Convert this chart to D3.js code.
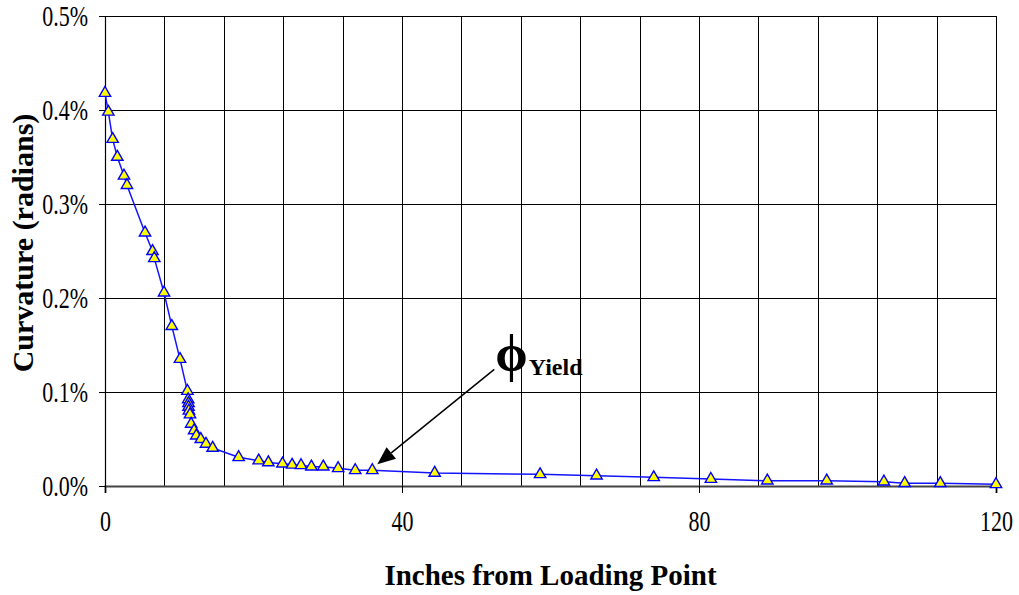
<!DOCTYPE html>
<html>
<head>
<meta charset="utf-8">
<script src="https://cdn.jsdelivr.net/npm/d3@7"></script>
<style>
  body { margin: 0; background: #fff; }
  svg { display: block; }
  text { font-family: "Liberation Serif", "Times New Roman", serif; fill: #000; }
</style>
</head>
<body>
<svg id="chart" width="1019" height="595"></svg>
<script>
// Distance from the loading point (inches) and measured curvature (radians)
const distance = [0, 0.45, 1.03, 1.66, 2.56, 2.96, 5.39, 6.4, 6.64, 7.95,
  9.0, 10.1, 11.1, 11.2, 11.25, 11.25, 11.3, 11.45, 11.6, 12.0,
  12.3, 12.9, 13.6, 14.5, 18.0, 20.7, 22.0, 23.9, 25.2, 26.4,
  27.8, 29.4, 31.4, 33.7, 36.0, 44.4, 58.6, 66.2, 73.9, 81.6,
  89.2, 97.2, 104.9, 107.7, 112.5, 120.0];
const curvature = [0.00418, 0.00398, 0.00369, 0.00350, 0.00330, 0.00320, 0.002695, 0.002497, 0.002422, 0.002056,
  0.00170, 0.00135, 0.00101, 0.00092, 0.00088, 0.00084, 0.00080, 0.00076, 0.00066, 0.00059,
  0.000535, 0.000497, 0.000447, 0.000404, 0.000305, 0.00027, 0.00025, 0.000237, 0.000225, 0.00022,
  0.000205, 0.000205, 0.000188, 0.000167, 0.000167, 0.000138, 0.000124, 0.00011, 0.000092, 0.000074,
  0.000056, 0.000056, 0.000046, 0.000029, 0.000029, 0.000018];

// Axis ticks and gridlines
const xTickValues = [0, 40, 80, 120];
const xGridValues = [0, 8, 16, 24, 32, 40, 48, 56, 64, 72, 80, 88, 96, 104, 112, 120];
const yTickValues = [0, 0.001, 0.002, 0.003, 0.004, 0.005];

const xTitle = "Inches from Loading Point";
const yTitle = "Curvature (radians)";

// Yield annotation: the symbol, its subscript, and the point it marks
const yieldSymbol = "\u03D5";
const yieldSub = "Yield";
const yieldIndex = 34;

const W = 1019, H = 595;
const margin = { top: 16, right: 23, bottom: 109, left: 105 };
const iw = W - margin.left - margin.right;
const ih = H - margin.top - margin.bottom;
const tickStretch = 1.3; // tick labels are drawn tall and narrow

const svg = d3.select("#chart");
const g = svg.append("g").attr("transform", `translate(${margin.left},${margin.top})`);

const x = d3.scaleLinear().domain([0, 120]).range([0, iw]);
const y = d3.scaleLinear().domain([0, 0.005]).range([ih, 0]);

// Gridlines
g.append("g").selectAll("line").data(xGridValues).join("line")
  .attr("x1", d => Math.round(x(d)) + 0.5).attr("x2", d => Math.round(x(d)) + 0.5)
  .attr("y1", 0).attr("y2", ih)
  .attr("stroke", "#000").attr("stroke-width", 1);
g.append("g").selectAll("line").data(yTickValues).join("line")
  .attr("y1", d => Math.round(y(d)) + 0.5).attr("y2", d => Math.round(y(d)) + 0.5)
  .attr("x1", 0).attr("x2", iw)
  .attr("stroke", "#000").attr("stroke-width", 1);

// Axes
const xAxis = g.append("g").attr("transform", `translate(0,${ih})`)
  .call(d3.axisBottom(x).tickValues(xTickValues).tickFormat(d3.format("d")).tickSize(7));
const yAxis = g.append("g")
  .call(d3.axisLeft(y).tickValues(yTickValues).tickFormat(d3.format(".1%")).tickSize(6));
[xAxis, yAxis].forEach(a => {
  a.select(".domain").attr("stroke", "#000").attr("stroke-width", 1.2);
  a.selectAll(".tick line").attr("stroke", "#000");
  a.selectAll(".tick text")
    .style("font-size", "22px").style("font-family", "'Liberation Serif', serif")
    .attr("fill", "#000");
});
xAxis.select(".domain").attr("stroke", "#444").attr("stroke-width", 2);
xAxis.selectAll(".tick text")
  .attr("y", 34.4).attr("dy", 0)
  .attr("transform", `scale(1,${tickStretch})`);
yAxis.selectAll(".tick text")
  .attr("x", -17).attr("dy", "0.32em")
  .attr("transform", `scale(1,${tickStretch})`);

// Frame: top and right borders
g.append("line").attr("x1", 0).attr("x2", iw).attr("y1", 0.5).attr("y2", 0.5).attr("stroke", "#000");
g.append("line").attr("x1", iw + 0.5).attr("x2", iw + 0.5).attr("y1", 0).attr("y2", ih).attr("stroke", "#000");

// Curvature line
const pts = distance.map((d, i) => [d, curvature[i]]);
g.append("path").datum(pts)
  .attr("fill", "none").attr("stroke", "#1414ff").attr("stroke-width", 1.5)
  .attr("d", d3.line().x(d => x(d[0])).y(d => y(d[1])));

// Triangle markers
const tri = d3.symbol().type(d3.symbolTriangle).size(56);
g.append("g").selectAll("path").data(pts).join("path")
  .attr("transform", d => `translate(${x(d[0])},${y(d[1])})`)
  .attr("d", tri)
  .attr("fill", "#ffff00").attr("stroke", "#0000ff").attr("stroke-width", 1.4);

// Yield annotation with arrow
const tx = x(distance[yieldIndex]) + 5, ty = y(curvature[yieldIndex]) - 6;
const sx = tx + 117, sy = ty - 95;
const ang = Math.atan2(ty - sy, tx - sx);
const headLen = 18, headHalf = 7.5;
const bx = tx - headLen * Math.cos(ang), by = ty - headLen * Math.sin(ang);
g.append("line").attr("x1", sx).attr("y1", sy).attr("x2", bx).attr("y2", by)
  .attr("stroke", "#000").attr("stroke-width", 1.5);
g.append("path")
  .attr("d", `M${tx},${ty}L${bx + headHalf * Math.sin(ang)},${by - headHalf * Math.cos(ang)}L${bx - headHalf * Math.sin(ang)},${by + headHalf * Math.cos(ang)}Z`)
  .attr("fill", "#000");

const lab = g.append("text");
lab.append("tspan").text(yieldSymbol)
  .attr("x", sx + 1).attr("y", sy + 2)
  .style("font-size", "52px").style("font-weight", "bold");
lab.append("tspan").text(yieldSub)
  .attr("y", sy + 6).attr("dx", 1)
  .style("font-size", "24px").style("font-weight", "bold");

// Axis titles
svg.append("text")
  .attr("x", margin.left + iw / 2).attr("y", 585)
  .attr("text-anchor", "middle")
  .style("font-size", "29px").style("font-weight", "bold")
  .text(xTitle);
svg.append("text")
  .attr("transform", `translate(33,${margin.top + ih / 2 - 8}) rotate(-90)`)
  .attr("text-anchor", "middle")
  .style("font-size", "30px").style("font-weight", "bold")
  .text(yTitle);
</script>
</body>
</html>
